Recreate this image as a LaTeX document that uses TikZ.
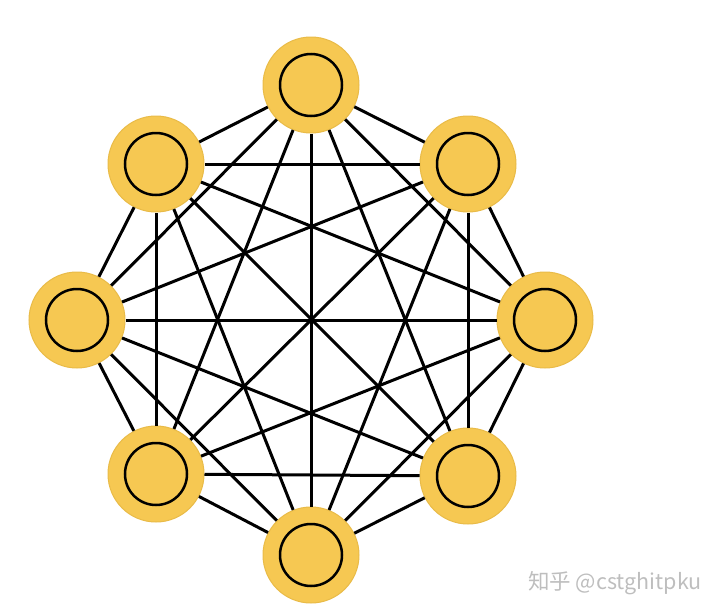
\documentclass[tikz,border=0pt]{standalone}
\usepackage{fontspec}
\newfontfamily\cjk{Noto Sans CJK SC}
\definecolor{gold}{RGB}{246,200,82}
\definecolor{golddark}{RGB}{233,187,72}
\definecolor{markgray}{RGB}{190,190,190}

\begin{document}
\begin{tikzpicture}[x=1pt, y=-1pt,
  vertex/.style={circle, fill=gold, draw=golddark, line width=1pt,
    minimum size=96pt, inner sep=0pt,
    path picture={\draw[black, line width=2.5pt] (path picture bounding box.center) circle (31pt);}},
  edge/.style={black, line width=3pt}]
\useasboundingbox (0,0) rectangle (726,616);

% eight vertices around the octagon
\node[vertex] (v1) at (311,85) {};
\node[vertex] (v2) at (468,164) {};
\node[vertex] (v3) at (545,320) {};
\node[vertex] (v4) at (468,476) {};
\node[vertex] (v5) at (311,555) {};
\node[vertex] (v6) at (156,474) {};
\node[vertex] (v7) at (77,320) {};
\node[vertex] (v8) at (156,164) {};

% every pair of vertices joined
\foreach \i in {1,...,7} {
  \pgfmathtruncatemacro{\nexti}{\i+1}
  \foreach \j in {\nexti,...,8} {
    \draw[edge] (v\i) -- (v\j);
  }
}

% watermark
\node[markgray, anchor=west, inner sep=0pt, font=\cjk\fontsize{21.5pt}{24pt}\selectfont] (mark) at (528,583) {知乎 @cstghitpku};
\end{tikzpicture}
\end{document}
